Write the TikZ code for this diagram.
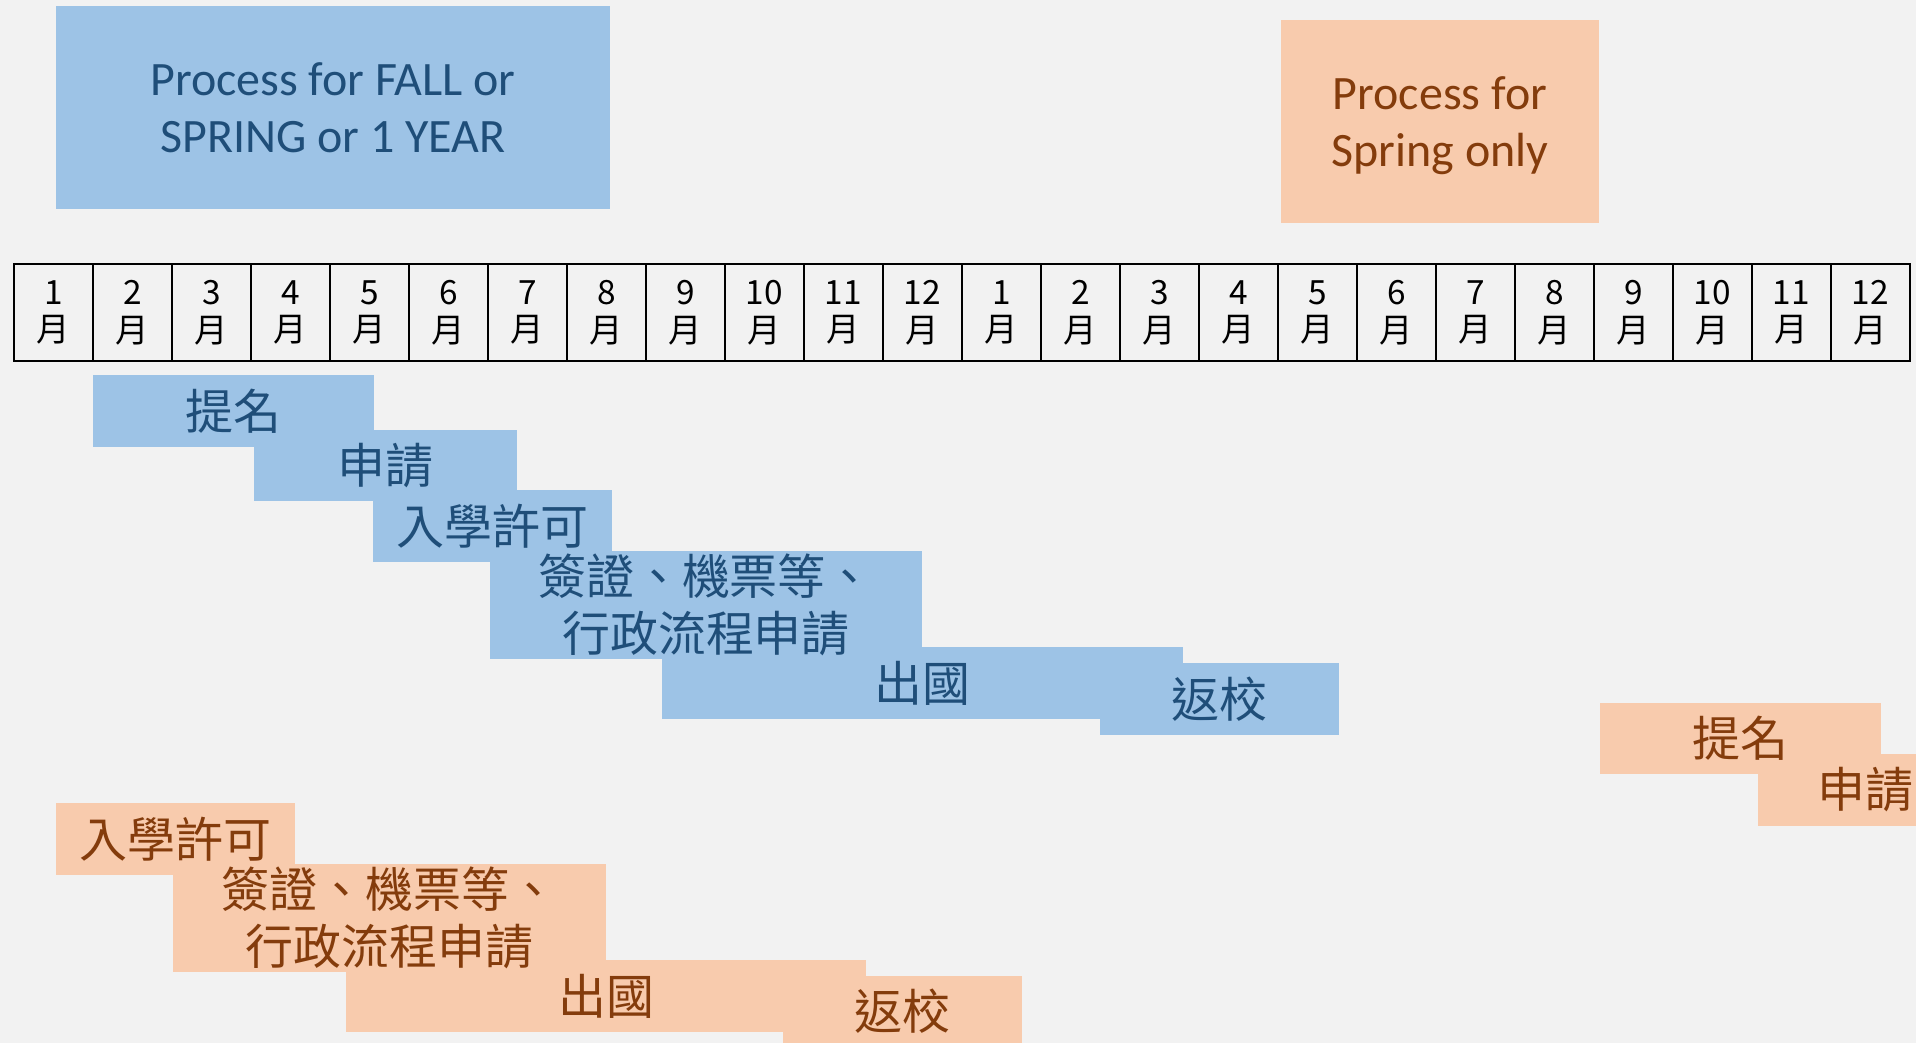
\documentclass[tikz,border=0pt]{standalone}
\usepackage{fontspec}
\setmainfont{Carlito}
\newfontfamily\cjk{Noto Sans CJK TC}
\definecolor{pagebg}{HTML}{F2F2F2}
\definecolor{bluefill}{HTML}{9DC3E6}
\definecolor{blueink}{HTML}{1F4E79}
\definecolor{orangefill}{HTML}{F8CBAD}
\definecolor{orangeink}{HTML}{843C0C}
\pgfdeclarelayer{bars}
\pgfsetlayers{bars,main}
\tikzset{
  cell/.style={draw, line width=1.5pt, minimum width=1.58cm, minimum height=1.94cm,
    inner sep=0pt, outer sep=0pt, align=center, font=\cjk\fontsize{19pt}{21.5pt}\selectfont},
  bar/.style={inner sep=0pt, outer sep=0pt, align=center,
    font=\cjk\fontsize{27.3pt}{32.3pt}\selectfont},
  bluebar/.style={bar, text=blueink},
  orangebar/.style={bar, text=orangeink},
  title/.style={inner sep=0pt, outer sep=0pt, align=center, text depth=0pt,
    font=\fontsize{27.3pt}{32.3pt}\selectfont},
}
\begin{document}
\begin{tikzpicture}[x=0.02cm, y=-0.02cm]
  \useasboundingbox (0,0) rectangle (1916,1043);
  % titles
  \node[title, text=blueink, minimum width=11.08cm, minimum height=4.06cm] (fall) at (333,107.5)
    {Process for FALL or\\SPRING or 1 YEAR};
  \node[title, text=orangeink, minimum width=6.36cm, minimum height=4.06cm] (spring) at (1440,121.5)
    {Process for\\Spring only};
  % months
  \path
    (53.5,312.5) node[cell] (m1){1\\月}
    (132.5,312.5) node[cell] (m2){2\\月}
    (211.5,312.5) node[cell] (m3){3\\月}
    (290.5,312.5) node[cell] (m4){4\\月}
    (369.5,312.5) node[cell] (m5){5\\月}
    (448.5,312.5) node[cell] (m6){6\\月}
    (527.5,312.5) node[cell] (m7){7\\月}
    (606.5,312.5) node[cell] (m8){8\\月}
    (685.5,312.5) node[cell] (m9){9\\月}
    (764.5,312.5) node[cell] (m10){10\\月}
    (843.5,312.5) node[cell] (m11){11\\月}
    (922.5,312.5) node[cell] (m12){12\\月}
    (1001.5,312.5) node[cell] (m13){1\\月}
    (1080.5,312.5) node[cell] (m14){2\\月}
    (1159.5,312.5) node[cell] (m15){3\\月}
    (1238.5,312.5) node[cell] (m16){4\\月}
    (1317.5,312.5) node[cell] (m17){5\\月}
    (1396.5,312.5) node[cell] (m18){6\\月}
    (1475.5,312.5) node[cell] (m19){7\\月}
    (1554.5,312.5) node[cell] (m20){8\\月}
    (1633.5,312.5) node[cell] (m21){9\\月}
    (1712.5,312.5) node[cell] (m22){10\\月}
    (1791.5,312.5) node[cell] (m23){11\\月}
    (1870.5,312.5) node[cell] (m24){12\\月};
  % fall / spring / 1 year
  \node[bluebar, minimum width=5.62cm, minimum height=1.44cm] (nomB) at (233.5,411) {提名};
  \node[bluebar, minimum width=5.26cm, minimum height=1.42cm] (appB) at (385.5,465.5) {申請};
  \node[bluebar, minimum width=4.78cm, minimum height=1.44cm] (admB) at (492.5,526) {入學許可};
  \node[bluebar, minimum width=8.64cm, minimum height=2.16cm] (visaB) at (706,605) {簽證、機票等、\\行政流程申請};
  \node[bluebar, minimum width=10.42cm, minimum height=1.44cm] (goB) at (922.5,683) {出國};
  \node[bluebar, minimum width=4.78cm, minimum height=1.44cm] (backB) at (1219.5,699) {返校};
  % spring only
  \node[orangebar, minimum width=5.62cm, minimum height=1.42cm] (nomO) at (1740.5,738.5) {提名};
  \node[orangebar, minimum width=4.28cm, minimum height=1.44cm] (appO) at (1865,790) {申請};
  \node[orangebar, minimum width=4.78cm, minimum height=1.44cm] (admO) at (175.5,839) {入學許可};
  \node[orangebar, minimum width=8.66cm, minimum height=2.16cm] (visaO) at (389.5,918) {簽證、機票等、\\行政流程申請};
  \node[orangebar, minimum width=10.40cm, minimum height=1.44cm] (goO) at (606,996) {出國};
  \node[orangebar, minimum width=4.78cm, minimum height=1.42cm] (backO) at (902.5,1011.5) {返校};
  \begin{pgfonlayer}{bars}
    \clip (0,0) rectangle (1916,1043);
    \fill[pagebg] (0,0) rectangle (1916,1043);
    \fill[bluefill] (fall.south west) rectangle (fall.north east);
    \fill[orangefill] (spring.south west) rectangle (spring.north east);
    \foreach \b in {nomB,appB,admB,visaB,goB,backB}
      \fill[bluefill] (\b.south west) rectangle (\b.north east);
    \foreach \b in {nomO,appO,admO,visaO,goO,backO}
      \fill[orangefill] (\b.south west) rectangle (\b.north east);
  \end{pgfonlayer}
\end{tikzpicture}
\end{document}
